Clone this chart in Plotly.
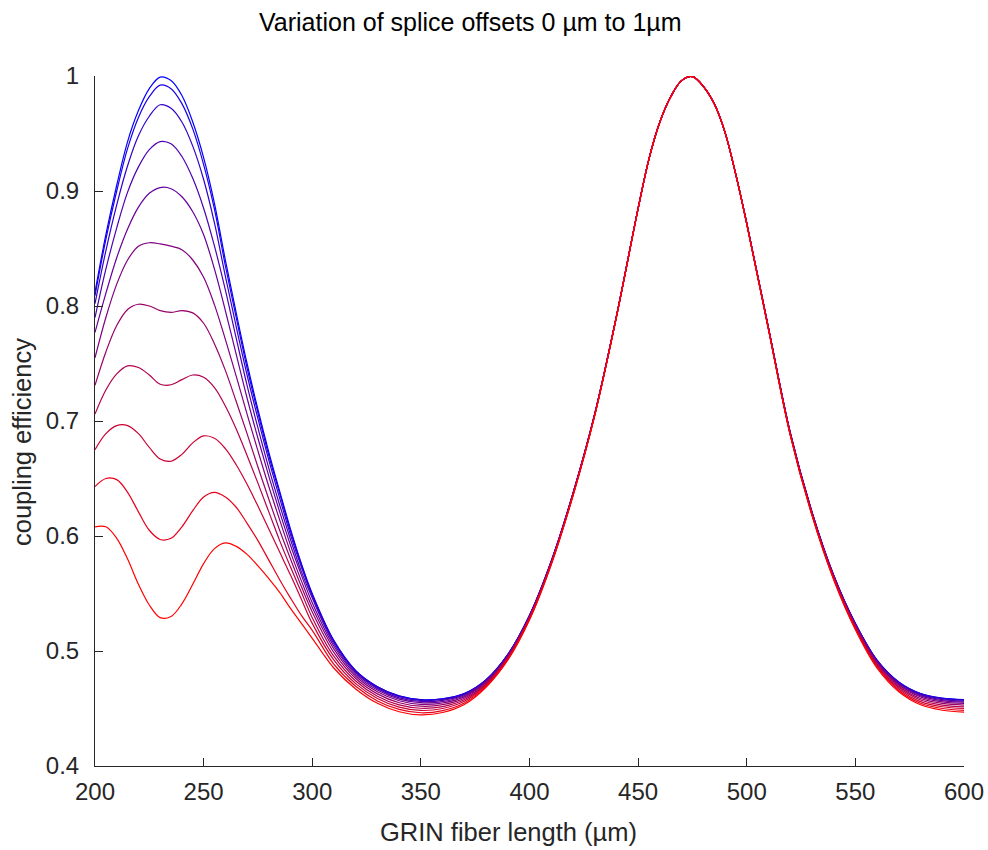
import plotly.graph_objects as go

# GRIN fiber length (µm)
x_um = [200, 205, 210, 215, 220, 225, 230, 235, 240, 245, 250, 255, 260, 265, 270, 275, 280, 285, 290, 295, 300,
        310, 320, 330, 340, 350, 360, 370, 380, 390, 400, 410, 420, 430, 440, 450,
        455, 460, 465, 470, 475, 480, 485, 490, 495, 500,
        510, 520, 530, 540, 550, 560, 570, 580, 590, 600]

offsets_um = [0.0, 0.1, 0.2, 0.3, 0.4, 0.5, 0.6, 0.7, 0.8, 0.9, 1.0]

c0 = [0.812, 0.862, 0.905, 0.943, 0.970, 0.989, 0.999, 0.996, 0.983, 0.960, 0.929, 0.889, 0.840, 0.794, 0.750, 0.710, 0.673, 0.639, 0.606, 0.576, 0.550,
      0.509, 0.483, 0.469, 0.461, 0.4578, 0.4585, 0.463, 0.475, 0.497, 0.531, 0.578, 0.637, 0.706, 0.791, 0.885,
      0.928, 0.960, 0.982, 0.996, 0.9995, 0.991, 0.976, 0.951, 0.914, 0.872,
      0.781, 0.690, 0.621, 0.566, 0.524, 0.492, 0.473, 0.463, 0.459, 0.4578]
c1 = [0.809, 0.858, 0.900, 0.937, 0.964, 0.982, 0.992, 0.989, 0.976, 0.954, 0.923, 0.884, 0.835, 0.790, 0.746, 0.707, 0.670, 0.637, 0.604, 0.575, 0.549,
      0.5086, 0.4828, 0.4688, 0.4608, 0.4576, 0.4583, 0.4629, 0.4749, 0.4969, 0.5309, 0.578, 0.637, 0.706, 0.791, 0.885,
      0.928, 0.960, 0.982, 0.996, 0.9995, 0.991, 0.976, 0.951, 0.914, 0.872,
      0.781, 0.690, 0.621, 0.5659, 0.5239, 0.4919, 0.4729, 0.4629, 0.4588, 0.4576]
c2 = [0.802, 0.848, 0.888, 0.922, 0.948, 0.965, 0.975, 0.972, 0.960, 0.939, 0.910, 0.872, 0.826, 0.782, 0.740, 0.702, 0.666, 0.633, 0.601, 0.573, 0.548,
      0.5078, 0.4822, 0.4683, 0.4603, 0.4571, 0.4579, 0.4625, 0.4747, 0.4967, 0.5308, 0.5778, 0.6369, 0.7059, 0.791, 0.885,
      0.928, 0.960, 0.982, 0.996, 0.9995, 0.991, 0.976, 0.951, 0.914, 0.872,
      0.7809, 0.6899, 0.6208, 0.5658, 0.5237, 0.4916, 0.4726, 0.4625, 0.4585, 0.4572]
c3 = [0.790, 0.832, 0.868, 0.899, 0.921, 0.936, 0.943, 0.941, 0.930, 0.911, 0.885, 0.852, 0.814, 0.772, 0.731, 0.694, 0.659, 0.627, 0.597, 0.569, 0.546,
      0.5061, 0.4811, 0.4673, 0.4593, 0.4562, 0.4571, 0.4619, 0.4742, 0.4964, 0.5305, 0.5776, 0.6367, 0.7058, 0.7909, 0.885,
      0.928, 0.960, 0.982, 0.996, 0.9995, 0.991, 0.976, 0.951, 0.914, 0.8719,
      0.7808, 0.6897, 0.6206, 0.5655, 0.5233, 0.4912, 0.472, 0.4618, 0.4577, 0.4565]
c4 = [0.777, 0.811, 0.842, 0.867, 0.886, 0.898, 0.903, 0.902, 0.895, 0.882, 0.862, 0.832, 0.796, 0.758, 0.720, 0.685, 0.652, 0.621, 0.592, 0.566, 0.542,
      0.5041, 0.4797, 0.466, 0.4582, 0.4551, 0.456, 0.4611, 0.4737, 0.496, 0.5302, 0.5774, 0.6365, 0.7057, 0.7908, 0.8849,
      0.928, 0.960, 0.982, 0.996, 0.9995, 0.991, 0.976, 0.951, 0.914, 0.8718,
      0.7807, 0.6895, 0.6204, 0.5652, 0.5229, 0.4906, 0.4713, 0.461, 0.4568, 0.4555]
c5 = [0.755, 0.790, 0.819, 0.840, 0.852, 0.855, 0.854, 0.852, 0.849, 0.840, 0.825, 0.801, 0.771, 0.739, 0.706, 0.674, 0.643, 0.614, 0.586, 0.561, 0.538,
      0.5016, 0.478, 0.4645, 0.4567, 0.4536, 0.4548, 0.4601, 0.473, 0.4954, 0.5298, 0.5771, 0.6363, 0.7055, 0.7908, 0.8849,
      0.928, 0.960, 0.982, 0.996, 0.9995, 0.991, 0.976, 0.951, 0.914, 0.8718,
      0.7805, 0.6893, 0.6201, 0.5648, 0.5223, 0.4898, 0.4704, 0.46, 0.4557, 0.4544]
c6 = [0.731, 0.760, 0.783, 0.797, 0.8015, 0.800, 0.796, 0.7945, 0.796, 0.794, 0.785, 0.767, 0.744, 0.717, 0.689, 0.660, 0.632, 0.605, 0.580, 0.556, 0.534,
      0.4986, 0.4761, 0.4627, 0.455, 0.452, 0.4533, 0.4589, 0.4722, 0.4948, 0.5293, 0.5767, 0.636, 0.7053, 0.7907, 0.8848,
      0.928, 0.960, 0.982, 0.996, 0.9995, 0.991, 0.976, 0.951, 0.914, 0.8717,
      0.7803, 0.689, 0.6197, 0.5643, 0.5216, 0.489, 0.4693, 0.4587, 0.4544, 0.453]
c7 = [0.706, 0.727, 0.741, 0.748, 0.7465, 0.740, 0.732, 0.7315, 0.736, 0.740, 0.738, 0.729, 0.713, 0.693, 0.670, 0.646, 0.621, 0.596, 0.573, 0.551, 0.529,
      0.4953, 0.4739, 0.4607, 0.4531, 0.4502, 0.4517, 0.4576, 0.4713, 0.4941, 0.5287, 0.5763, 0.6357, 0.7051, 0.7905, 0.8848,
      0.928, 0.960, 0.982, 0.996, 0.9995, 0.991, 0.976, 0.951, 0.914, 0.8715,
      0.7801, 0.6887, 0.6193, 0.5637, 0.5209, 0.488, 0.4682, 0.4574, 0.453, 0.4515]
c8 = [0.675, 0.689, 0.696, 0.696, 0.689, 0.677, 0.667, 0.665, 0.671, 0.681, 0.687, 0.685, 0.676, 0.662, 0.645, 0.626, 0.606, 0.586, 0.566, 0.545, 0.524,
      0.492, 0.4716, 0.4587, 0.4512, 0.4483, 0.45, 0.4563, 0.4704, 0.4934, 0.5282, 0.5759, 0.6354, 0.7049, 0.7904, 0.8847,
      0.928, 0.960, 0.982, 0.996, 0.9995, 0.991, 0.976, 0.951, 0.914, 0.8714,
      0.7799, 0.6884, 0.6189, 0.5632, 0.5201, 0.487, 0.467, 0.456, 0.4515, 0.45]
c9 = [0.643, 0.650, 0.649, 0.638, 0.621, 0.605, 0.597, 0.598, 0.608, 0.622, 0.634, 0.638, 0.634, 0.625, 0.611, 0.596, 0.579, 0.562, 0.546, 0.531, 0.518,
      0.4884, 0.4693, 0.4566, 0.4492, 0.4463, 0.4482, 0.4548, 0.4694, 0.4927, 0.5276, 0.5754, 0.6351, 0.7047, 0.7903, 0.8847,
      0.928, 0.960, 0.982, 0.996, 0.9995, 0.991, 0.976, 0.951, 0.914, 0.8713,
      0.7797, 0.6881, 0.6184, 0.5626, 0.5193, 0.486, 0.4657, 0.4546, 0.45, 0.4484]
c10 = [0.608, 0.608, 0.598, 0.580, 0.558, 0.540, 0.529, 0.530, 0.541, 0.558, 0.576, 0.589, 0.594, 0.591, 0.584, 0.574, 0.563, 0.551, 0.537, 0.524, 0.511,
       0.485, 0.467, 0.4545, 0.4472, 0.4444, 0.4465, 0.4535, 0.4685, 0.492, 0.527, 0.575, 0.6348, 0.7045, 0.7902, 0.8846,
       0.928, 0.960, 0.982, 0.996, 0.9995, 0.991, 0.976, 0.951, 0.914, 0.8712,
       0.7795, 0.6878, 0.618, 0.562, 0.5185, 0.485, 0.4645, 0.4532, 0.4485, 0.4468]

curves = [c0, c1, c2, c3, c4, c5, c6, c7, c8, c9, c10]
colors = ["rgb(0,0,255)", "rgb(26,0,230)", "rgb(51,0,204)", "rgb(77,0,179)", "rgb(102,0,153)",
          "rgb(128,0,128)", "rgb(153,0,102)", "rgb(179,0,77)", "rgb(204,0,51)", "rgb(230,0,26)", "rgb(255,0,0)"]

x_ticks = [200, 250, 300, 350, 400, 450, 500, 550, 600]
y_ticks = [0.4, 0.5, 0.6, 0.7, 0.8, 0.9, 1.0]
y_tick_text = ["0.4", "0.5", "0.6", "0.7", "0.8", "0.9", "1"]

FONT = "Liberation Sans, Arial, Helvetica, sans-serif"
INK = "#262626"

fig = go.Figure()
for off, ys, col in zip(offsets_um, curves, colors):
    fig.add_trace(go.Scatter(x=x_um, y=ys, mode="lines", name=f"{off:.1f} µm",
                             line=dict(color=col, width=1.2, shape="spline", smoothing=1.0),
                             showlegend=False))

L, R, T, B = 95, 24, 76, 84
W, H = 988, 850
pw, ph = W - L - R, H - T - B

def px(xp):
    return (xp - L) / pw

def py(yp):
    return (H - B - yp) / ph

fig.update_layout(
    width=W, height=H, autosize=False,
    margin=dict(l=L, r=R, t=T, b=B, pad=0, autoexpand=False),
    paper_bgcolor="white", plot_bgcolor="white",
    font=dict(family=FONT, color=INK),
    xaxis=dict(range=[200, 600], tickvals=x_ticks, ticks="inside", ticklen=8, tickwidth=1,
               tickcolor=INK, showline=True, linecolor=INK, linewidth=1, showgrid=False,
               zeroline=False, tickfont=dict(size=24, family=FONT, color=INK), mirror=False,
               automargin=False, ticklabelstandoff=4),
    yaxis=dict(range=[0.4, 1.0], tickvals=y_ticks, ticktext=y_tick_text, ticks="inside", ticklen=8,
               tickwidth=1, tickcolor=INK, showline=True, linecolor=INK, linewidth=1, showgrid=False,
               zeroline=False, tickfont=dict(size=24, family=FONT, color=INK), mirror=False,
               automargin=False, ticklabelstandoff=10),
    annotations=[
        dict(text="Variation of splice offsets 0 µm to 1µm", x=px(470), y=py(22), xref="paper", yref="paper",
             showarrow=False, xanchor="center", yanchor="middle", font=dict(size=25, family=FONT, color="black")),
        dict(text="GRIN fiber length (µm)", x=px(508), y=py(832), xref="paper", yref="paper",
             showarrow=False, xanchor="center", yanchor="middle", font=dict(size=25.5, family=FONT, color=INK)),
        dict(text="coupling efficiency", x=px(22), y=py(442), xref="paper", yref="paper", textangle=-90,
             showarrow=False, xanchor="center", yanchor="middle", font=dict(size=25.5, family=FONT, color=INK)),
    ],
)

fig.write_html("out.html")
